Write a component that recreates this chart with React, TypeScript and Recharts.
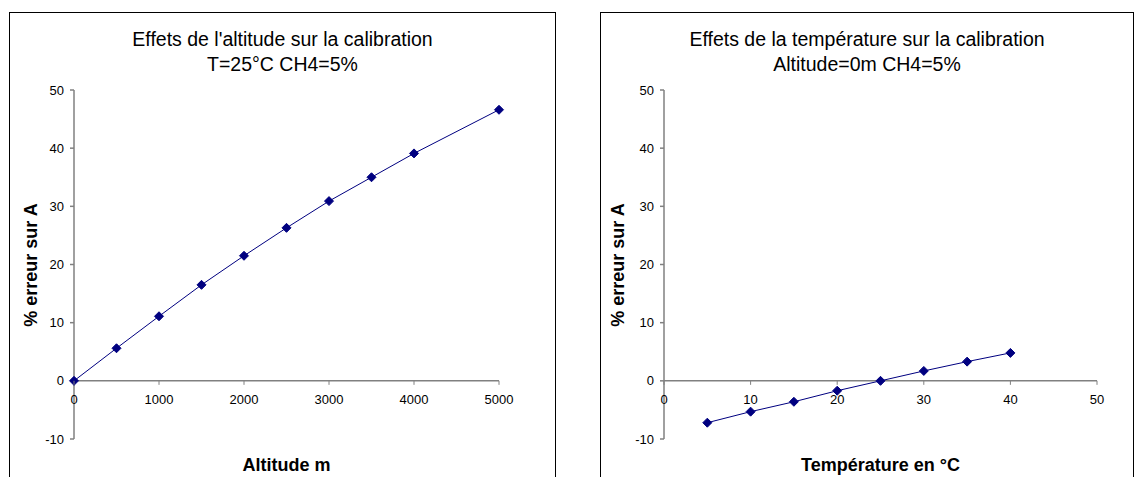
import React from 'react';
import { LineChart, Line, XAxis, YAxis, ReferenceLine } from 'recharts';

// left panel: altitude
const altitudes = [0, 500, 1000, 1500, 2000, 2500, 3000, 3500, 4000, 5000];
const altitudeErrors = [0, 5.6, 11.1, 16.5, 21.5, 26.3, 30.9, 35.0, 39.1, 46.6];
const altitudeTicks = [0, 1000, 2000, 3000, 4000, 5000];

// right panel: temperature
const temperatures = [5, 10, 15, 20, 25, 30, 35, 40];
const temperatureErrors = [-7.2, -5.3, -3.6, -1.7, 0, 1.7, 3.3, 4.8];
const temperatureTicks = [0, 10, 20, 30, 40, 50];

const errorTicks = [-10, 0, 10, 20, 30, 40, 50];

const FONT = "'Liberation Sans', Arial, sans-serif";
const NAVY = '#000080';
const AXIS = '#808080';

const CHART_H = 465;
const MARGIN_TOP = 78;
const MARGIN_BOTTOM = 37;
const X_AXIS_H = 1;
const PLOT_H = CHART_H - MARGIN_TOP - MARGIN_BOTTOM - X_AXIS_H;
// y pixel of the value 0 inside the svg (domain -10..50)
const ZERO_Y = MARGIN_TOP + (PLOT_H * 50) / 60;

const Diamond = (props: any) => {
	const { cx, cy } = props;
	if (cx == null || cy == null) return null;
	const r = 4.5;
	return (
		<polygon
			points={`${cx},${cy - r} ${cx + r},${cy} ${cx},${cy + r} ${cx - r},${cy}`}
			fill={NAVY}
			stroke={NAVY}
		/>
	);
};

// x ticks drawn on the zero line, not at the bottom of the plot
const ZeroTick = (props: any) => {
	const { x, payload } = props;
	return (
		<g>
			<line x1={x} y1={ZERO_Y} x2={x} y2={ZERO_Y + 4} stroke={AXIS} />
			<text
				x={x}
				y={ZERO_Y + 23}
				textAnchor='middle'
				fontSize={13}
				fontFamily={FONT}
				fill='#000'>
				{payload.value}
			</text>
		</g>
	);
};

interface PanelProps {
	xs: number[];
	ys: number[];
	xTicks: number[];
	xMax: number;
	left: number;
	width: number;
	yAxisWidth: number;
	marginRight: number;
	title: string[];
	xLabel: string;
	yLabelX: number;
	frameWidth: number;
}

function Panel(p: PanelProps) {
	const data = p.xs.map((x, i) => ({ x, y: p.ys[i] }));
	const plotCenter = p.left + p.yAxisWidth + (p.width - p.yAxisWidth - p.marginRight) / 2;
	return (
		<>
			<div
				style={{
					position: 'absolute',
					left: p.left,
					top: 12,
					width: p.frameWidth,
					height: 480,
					border: '1px solid #000',
					boxSizing: 'border-box',
				}}
			/>
			<div
				style={{
					position: 'absolute',
					left: p.left,
					top: 27,
					width: p.frameWidth,
					textAlign: 'center',
					fontFamily: FONT,
					fontSize: 19.5,
					lineHeight: '25px',
				}}>
				{p.title[0]}
				<br />
				{p.title[1]}
			</div>
			<div style={{ position: 'absolute', left: p.left, top: 12 }}>
				<LineChart
					width={p.width}
					height={CHART_H}
					data={data}
					margin={{ top: MARGIN_TOP, right: p.marginRight, left: 0, bottom: MARGIN_BOTTOM }}>
					<XAxis
						dataKey='x'
						type='number'
						domain={[0, p.xMax]}
						ticks={p.xTicks}
						height={X_AXIS_H}
						axisLine={false}
						tickLine={false}
						tick={<ZeroTick />}
						interval={0}
					/>
					<YAxis
						type='number'
						domain={[-10, 50]}
						ticks={errorTicks}
						width={p.yAxisWidth}
						stroke={AXIS}
						strokeWidth={1.5}
						tickSize={4}
						tickMargin={6}
						tick={{ fontSize: 13, fontFamily: FONT, fill: '#000' }}
						interval={0}
					/>
					<ReferenceLine y={0} stroke={AXIS} strokeWidth={1.5} />
					<Line
						type='linear'
						dataKey='y'
						stroke={NAVY}
						strokeWidth={1}
						dot={<Diamond />}
						isAnimationActive={false}
					/>
				</LineChart>
			</div>
			<div
				style={{
					position: 'absolute',
					left: plotCenter - 150,
					top: 454,
					width: 300,
					textAlign: 'center',
					fontFamily: FONT,
					fontWeight: 'bold',
					fontSize: 18,
					lineHeight: '22px',
				}}>
				{p.xLabel}
			</div>
			<div
				style={{
					position: 'absolute',
					left: p.yLabelX - 100,
					top: 265 - 11,
					width: 200,
					textAlign: 'center',
					fontFamily: FONT,
					fontWeight: 'bold',
					fontSize: 18,
					lineHeight: '22px',
					transform: 'rotate(-90deg)',
				}}>
				% erreur sur A
			</div>
		</>
	);
}

export default function App() {
	return (
		<div
			style={{
				position: 'absolute',
				left: 0,
				top: 0,
				width: 1134,
				height: 477,
				overflow: 'hidden',
				background: '#fff',
			}}>
			<Panel
				xs={altitudes}
				ys={altitudeErrors}
				xTicks={altitudeTicks}
				xMax={5000}
				left={9}
				width={547}
				yAxisWidth={65}
				marginRight={57}
				frameWidth={547}
				title={["Effets de l'altitude sur la calibration", 'T=25°C CH4=5%']}
				xLabel='Altitude m'
				yLabelX={31}
			/>
			<Panel
				xs={temperatures}
				ys={temperatureErrors}
				xTicks={temperatureTicks}
				xMax={50}
				left={600}
				width={534}
				yAxisWidth={64}
				marginRight={37}
				frameWidth={534}
				title={['Effets de la température sur la calibration', 'Altitude=0m CH4=5%']}
				xLabel='Température en °C'
				yLabelX={618}
			/>
		</div>
	);
}
